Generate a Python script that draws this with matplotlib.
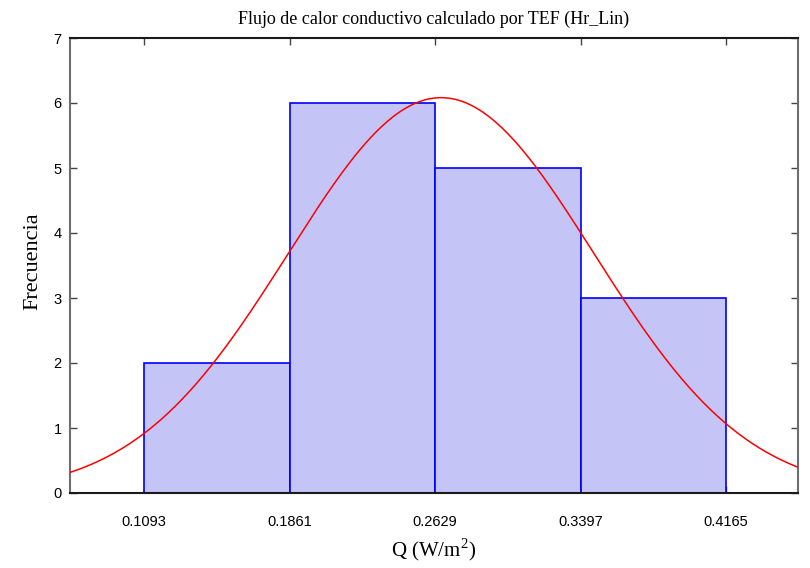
import numpy as np
import matplotlib
matplotlib.use("Agg")
import matplotlib.pyplot as plt

plt.rcParams["mathtext.fontset"] = "custom"
plt.rcParams["mathtext.rm"] = "Liberation Serif"

# Histogram of conductive heat flux, with fitted normal curve
bin_edges = [0.1093, 0.1861, 0.2629, 0.3397, 0.4165]
counts = [2, 6, 5, 3]
tick_labels = ["0.1093", "0.1861", "0.2629", "0.3397", "0.4165"]
fit_mean = 0.2661
fit_sd = 0.0806
x_limits = (0.0702, 0.4545)
y_ticks = [0, 1, 2, 3, 4, 5, 6, 7]

fig = plt.figure(figsize=(8.10, 5.68), dpi=100)
ax = fig.add_axes([70 / 810, 1 - 493 / 568, 728 / 810, 455 / 568])

edges = np.array(bin_edges)
widths = np.diff(edges)
ax.bar(edges[:-1], counts, width=widths, align="edge",
       facecolor="#c4c4f6", edgecolor="#0000ff", linewidth=1.2, zorder=2)

# Normal curve scaled to the counts
n_total = sum(counts)
xs = np.linspace(x_limits[0], x_limits[1], 400)
pdf = np.exp(-0.5 * ((xs - fit_mean) / fit_sd) ** 2) / (fit_sd * np.sqrt(2 * np.pi))
ax.plot(xs, n_total * widths[0] * pdf, color="#ff0000", linewidth=1.1, zorder=3)

ax.set_xlim(*x_limits)
ax.set_ylim(0, 7)
ax.set_xticks(bin_edges)
ax.set_xticklabels(tick_labels)
ax.set_yticks(y_ticks)

for lab in ax.get_xticklabels() + ax.get_yticklabels():
    lab.set_fontfamily("Liberation Sans")
    lab.set_fontsize(10.5)

ax.tick_params(direction="in", top=True, right=True, length=5, width=1,
               color="#444444")
ax.tick_params(axis="x", pad=16)
ax.tick_params(axis="y", pad=6)
for side in ["left", "right"]:
    ax.spines[side].set_color("#6e6e6e")
for side in ["top", "bottom"]:
    ax.spines[side].set_color("#1a1a1a")
for sp in ax.spines.values():
    sp.set_linewidth(1.5)

serif = "Liberation Serif"
ax.set_title("Flujo de calor conductivo calculado por TEF (Hr_Lin)",
             fontfamily=serif, fontsize=13, pad=10)
ax.set_xlabel(r"Q (W/m$^{2}$)", fontfamily=serif, fontsize=15,
              labelpad=5)
ax.set_ylabel("Frecuencia", fontfamily=serif, fontsize=16)
ax.yaxis.set_label_coords(-0.0385, 0.509)

fig.savefig("out.png", dpi=100)
